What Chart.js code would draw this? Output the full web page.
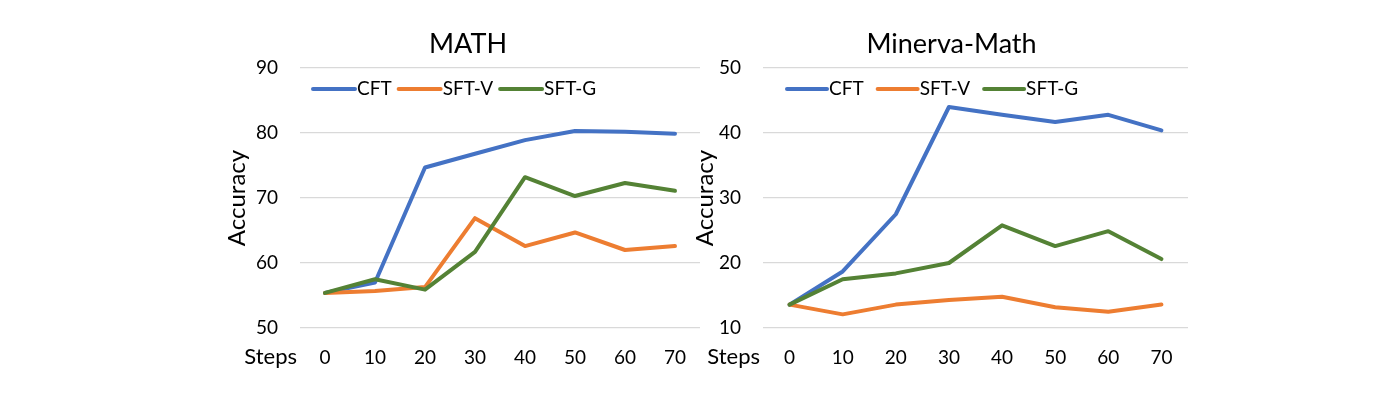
<!DOCTYPE html>
<html>
<head>
<meta charset="utf-8">
<script src="https://cdn.jsdelivr.net/npm/chart.js@4.4.1/dist/chart.umd.min.js"></script>
<style>
  html, body { margin: 0; background: #fff; }
  #wrap { position: relative; width: 1400px; height: 410px; overflow: hidden; }
  .box { position: absolute; top: 0; height: 410px; }
  #mathBox { left: 200px; width: 536px; }
  #minervaBox { left: 663px; width: 576px; }
</style>
</head>
<body>
<div id="wrap">
  <div class="box" id="mathBox"><canvas id="mathChart"></canvas></div>
  <div class="box" id="minervaBox"><canvas id="minervaChart"></canvas></div>
</div>
<script>
const steps = ['0', '10', '20', '30', '40', '50', '60', '70'];
const seriesNames = ['CFT', 'SFT-V', 'SFT-G'];
const seriesColors = ['#4472C4', '#ED7D31', '#548235'];

const mathCft = [55.4, 57.0, 74.7, 76.8, 78.9, 80.3, 80.2, 79.9];
const mathSftV = [55.4, 55.7, 56.3, 66.9, 62.6, 64.7, 62.0, 62.6];
const mathSftG = [55.4, 57.5, 55.9, 61.7, 73.2, 70.3, 72.3, 71.1];

const minervaCft = [13.6, 18.7, 27.5, 44.0, 42.8, 41.7, 42.8, 40.4];
const minervaSftV = [13.6, 12.1, 13.6, 14.3, 14.8, 13.2, 12.5, 13.6];
const minervaSftG = [13.6, 17.5, 18.4, 20.0, 25.8, 22.6, 24.9, 20.6];

const FONT = 'Lato, "Open Sans", sans-serif';

// title, legend inside the plot area and the "Steps" caption left of the x ticks
const sideLabels = {
  id: 'sideLabels',
  afterDraw(chart, args, opts) {
    const { ctx, chartArea, scales } = chart;
    ctx.save();
    ctx.fillStyle = '#000';
    ctx.textBaseline = 'middle';

    ctx.textAlign = 'center';
    ctx.font = `27px ${FONT}`;
    ctx.fillText(opts.title, (chartArea.left + chartArea.right) / 2 + opts.titleShift, chartArea.top - 24);

    ctx.textAlign = 'right';
    ctx.font = `22px ${FONT}`;
    ctx.fillText('Steps', chartArea.left - 3, scales.x.top + opts.tickOffset);

    ctx.font = `19px ${FONT}`;
    let x = chartArea.left + opts.legendStart;
    const y = chartArea.top + opts.legendDrop;
    ctx.textAlign = 'left';
    chart.data.datasets.forEach((ds) => {
      ctx.strokeStyle = ds.borderColor;
      ctx.lineWidth = 4;
      ctx.lineCap = 'round';
      ctx.beginPath();
      ctx.moveTo(x, y);
      ctx.lineTo(x + opts.swatch, y);
      ctx.stroke();
      x += opts.swatch + 2;
      ctx.fillText(ds.label, x, y);
      x += ctx.measureText(ds.label).width + opts.gap;
    });
    ctx.restore();
  },
};

function makeDatasets(values) {
  return values.map((data, i) => ({
    label: seriesNames[i],
    data,
    borderColor: seriesColors[i],
    backgroundColor: seriesColors[i],
    borderWidth: 4,
    pointRadius: 0,
    tension: 0,
    borderJoinStyle: 'round',
    borderCapStyle: 'round',
    order: 3 - i,
  }));
}

function buildChart(id, title, values, yMin, yMax, extra) {
  return new Chart(document.getElementById(id), {
    type: 'line',
    data: { labels: steps, datasets: makeDatasets(values) },
    options: {
      responsive: true,
      maintainAspectRatio: false,
      animation: false,
      layout: { padding: { left: 0, right: extra.right, top: 68, bottom: 32 } },
      plugins: {
        legend: { display: false },
        tooltip: { enabled: false },
        title: { display: false },
        sideLabels: {
          title,
          titleShift: extra.titleShift,
          tickOffset: 29,
          legendStart: extra.legendStart,
          legendDrop: 21,
          swatch: extra.swatch,
          gap: extra.gap,
        },
      },
      scales: {
        x: {
          offset: true,
          grid: { display: false, drawTicks: false },
          border: { display: false },
          ticks: { color: '#000', padding: 18, font: { family: FONT, size: 19 } },
          afterFit: (scale) => { scale.height = 50; },
        },
        y: {
          min: yMin,
          max: yMax,
          grid: { color: '#D9D9D9', lineWidth: 1.3, drawTicks: false },
          border: { display: false },
          ticks: { stepSize: 10, color: '#000', padding: 22, font: { family: FONT, size: 19 } },
          title: {
            display: true,
            text: 'Accuracy',
            color: '#000',
            font: { family: FONT, size: 24 },
            padding: { top: extra.titlePad, bottom: 0 },
          },
          afterFit: (scale) => { scale.width = 100; },
        },
      },
    },
    plugins: [sideLabels],
  });
}

buildChart('mathChart', 'MATH', [mathCft, mathSftV, mathSftG], 50, 90,
  { right: 36, titleShift: -32, legendStart: 13, swatch: 42, gap: 7, titlePad: 23 });
buildChart('minervaChart', 'Minerva-Math', [minervaCft, minervaSftV, minervaSftG], 10, 50,
  { right: 51, titleShift: -24, legendStart: 24, swatch: 40, gap: 14, titlePad: 28 });
</script>
</body>
</html>
